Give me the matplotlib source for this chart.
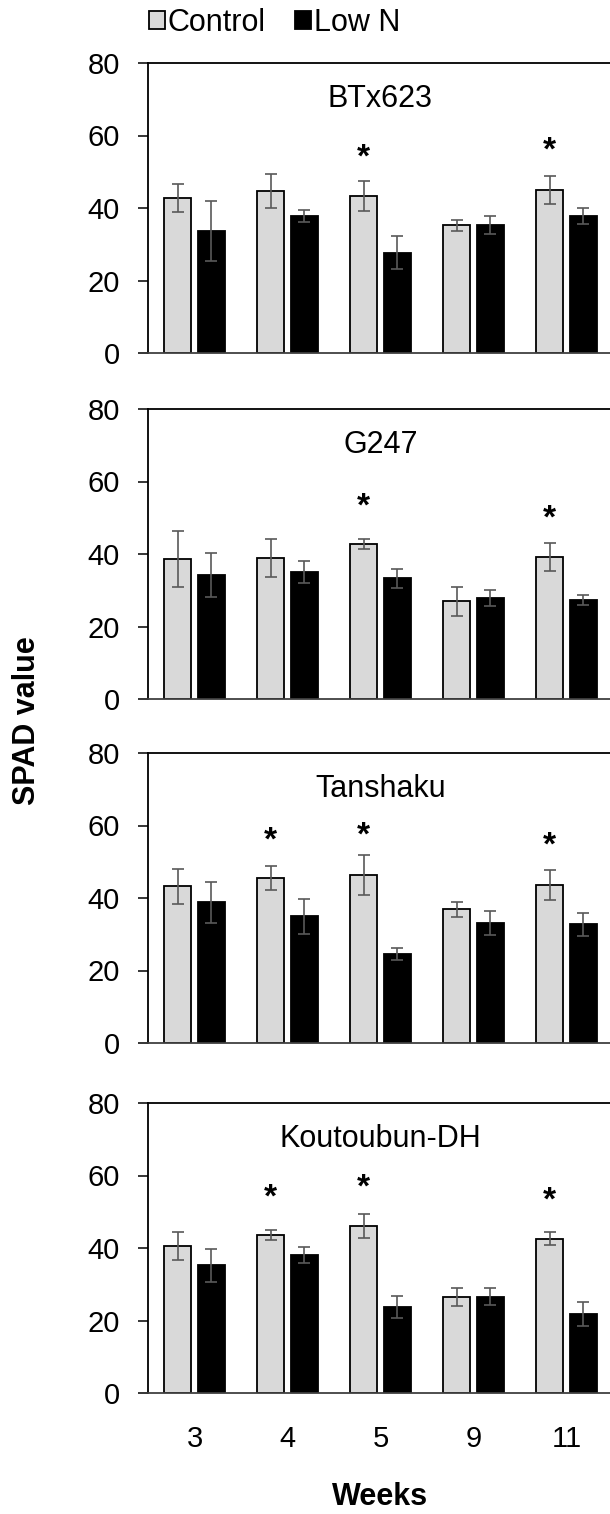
import matplotlib
matplotlib.use("Agg")
import matplotlib.pyplot as plt
import numpy as np

plt.rcParams["font.family"] = ["Liberation Sans", "DejaVu Sans"]

weeks = ["3", "4", "5", "9", "11"]
cultivars = ["BTx623", "G247", "Tanshaku", "Koutoubun-DH"]

# SPAD means / error bars
btx_ctrl = [42.8, 44.7, 43.4, 35.2, 45.0]
btx_ctrl_err = [3.8, 4.7, 4.1, 1.5, 3.9]
btx_lown = [33.7, 37.8, 27.7, 35.3, 37.8]
btx_lown_err = [8.2, 1.7, 4.5, 2.4, 2.1]
btx_star = [None, None, 55.4, None, 57.1]

g247_ctrl = [38.7, 38.9, 42.8, 26.9, 39.2]
g247_ctrl_err = [7.7, 5.2, 1.4, 3.9, 3.8]
g247_lown = [34.2, 35.0, 33.3, 27.9, 27.4]
g247_lown_err = [6.1, 3.0, 2.6, 2.2, 1.4]
g247_star = [None, None, 54.5, None, 51.1]

tan_ctrl = [43.2, 45.5, 46.3, 36.9, 43.6]
tan_ctrl_err = [4.8, 3.3, 5.6, 2.1, 4.1]
tan_lown = [38.8, 34.9, 24.5, 33.1, 32.8]
tan_lown_err = [5.6, 4.7, 1.7, 3.2, 3.2]
tan_star = [None, 57.3, 58.7, None, 55.7]

kou_ctrl = [40.6, 43.7, 46.1, 26.5, 42.6]
kou_ctrl_err = [3.8, 1.4, 3.3, 2.5, 1.9]
kou_lown = [35.2, 38.1, 23.7, 26.6, 21.8]
kou_lown_err = [4.5, 2.2, 3.1, 2.4, 3.3]
kou_star = [None, 55.4, 57.9, None, 54.5]

panels = [
    (btx_ctrl, btx_ctrl_err, btx_lown, btx_lown_err, btx_star),
    (g247_ctrl, g247_ctrl_err, g247_lown, g247_lown_err, g247_star),
    (tan_ctrl, tan_ctrl_err, tan_lown, tan_lown_err, tan_star),
    (kou_ctrl, kou_ctrl_err, kou_lown, kou_lown_err, kou_star),
]

W, H = 610, 1514
fig = plt.figure(figsize=(W / 100, H / 100), dpi=100)

# panel extents in pixels (top of 80, bottom at 0)
tops = [63, 409, 753, 1103]
ax_h = 290
ax_left = 148
ax_w = 465

x = np.arange(len(weeks))
bw = 0.29
off = 0.18
err_kw = dict(ecolor="#595959", elinewidth=1.2, capsize=4.3, capthick=1.2)
fs = 22
tick_fs = 21

axes = []
for i, (ctrl, ctrl_err, lown, lown_err, stars) in enumerate(panels):
    ax = fig.add_axes([ax_left / W, 1 - (tops[i] + ax_h) / H, ax_w / W, ax_h / H])
    axes.append(ax)
    b1 = ax.bar(x - off, ctrl, bw, yerr=ctrl_err, color="#D9D9D9",
                edgecolor="black", linewidth=1.3, error_kw=err_kw, label="Control")
    b2 = ax.bar(x + off, lown, bw, yerr=lown_err, color="black",
                edgecolor="black", linewidth=1.3, error_kw=err_kw, label="Low N")
    for j, s in enumerate(stars):
        if s is not None:
            ax.annotate("*", (x[j] - off, s), xytext=(0, -10),
                        textcoords="offset points", ha="center", va="baseline",
                        fontsize=24, fontweight="bold")
    ax.text(2, 70, cultivars[i], ha="center", va="center", fontsize=fs)
    ax.set_xlim(-0.5, 4.5)
    ax.set_ylim(0, 80)
    ax.set_yticks([0, 20, 40, 60, 80])
    ax.tick_params(axis="y", direction="out", length=7.2, width=1.1,
                   pad=13, labelsize=tick_fs)
    ax.spines["right"].set_visible(False)
    for sp in ["left", "top"]:
        ax.spines[sp].set_linewidth(1.3)
        ax.spines[sp].set_color("black")
    ax.spines["bottom"].set_linewidth(1.3)
    ax.spines["bottom"].set_color("#404040")
    ax.set_xticks(x)
    if i < 3:
        ax.tick_params(axis="x", length=0, labelbottom=False)
    else:
        ax.set_xticklabels(weeks)
        ax.tick_params(axis="x", length=0, pad=23, labelsize=tick_fs)

fig.legend(handles=[b1, b2], labels=["Control", "Low N"], loc="center left",
           bbox_to_anchor=(149 / W, 1 - 23 / H), ncol=2, frameon=False,
           fontsize=fs, handlelength=0.52, handleheight=0.52,
           handletextpad=0.1, columnspacing=0.95, borderpad=0, borderaxespad=0)

fig.text((ax_left + ax_w / 2) / W, 1 - 1497 / H, "Weeks", ha="center",
         va="center", fontsize=fs, fontweight="bold")
fig.text(27 / W, 1 - 721 / H, "SPAD value", ha="center", va="center",
         rotation=90, fontsize=fs, fontweight="bold")

fig.savefig("out.png", dpi=100)
